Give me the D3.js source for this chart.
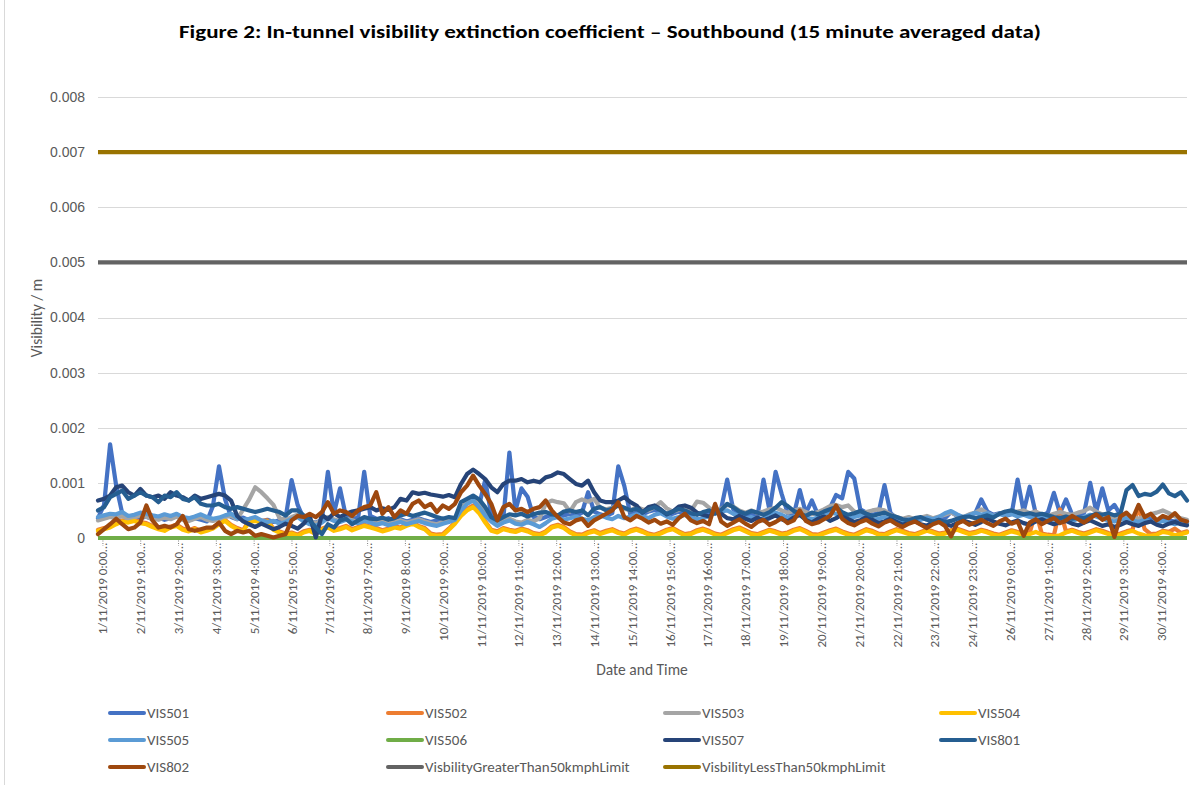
<!DOCTYPE html>
<html>
<head>
<meta charset="utf-8">
<script src="https://cdnjs.cloudflare.com/ajax/libs/d3/7.8.5/d3.min.js"></script>
<style>
  body { margin: 0; background: #fff; }
  svg { display: block; font-family: Carlito, Calibri, Lato, "Open Sans", sans-serif; }
</style>
</head>
<body>
<svg id="chart" width="1202" height="785"></svg>
<script>
// values, one every 4 hours from the first sample
const startTime = Date.UTC(2019, 9, 31, 20, 45);
const stepHours = 4;
const spanHours = 720;

const vis501 = [0.00036,0.00060,0.00170,0.00095,0.00045,0.00038,0.00040,0.00036,0.00039,0.00034,
  0.00037,0.00033,0.00036,0.00040,0.00035,0.00032,0.00036,0.00033,0.00030,0.00058,
  0.00130,0.00070,0.00038,0.00034,0.00037,0.00032,0.00035,0.00030,0.00033,0.00029,
  0.00032,0.00036,0.00105,0.00060,0.00035,0.00030,0.00028,0.00033,0.00120,0.00045,
  0.00090,0.00038,0.00034,0.00037,0.00120,0.00040,0.00035,0.00032,0.00036,0.00031,
  0.00034,0.00030,0.00033,0.00036,0.00032,0.00029,0.00032,0.00035,0.00031,0.00036,
  0.00052,0.00064,0.00070,0.00060,0.00105,0.00042,0.00032,0.00036,0.00155,0.00050,
  0.00090,0.00075,0.00038,0.00034,0.00038,0.00042,0.00038,0.00041,0.00044,0.00040,
  0.00046,0.00083,0.00048,0.00043,0.00040,0.00045,0.00130,0.00094,0.00042,0.00046,
  0.00043,0.00048,0.00051,0.00046,0.00041,0.00044,0.00048,0.00043,0.00040,0.00045,
  0.00042,0.00046,0.00049,0.00053,0.00106,0.00052,0.00045,0.00041,0.00044,0.00040,
  0.00106,0.00050,0.00120,0.00080,0.00045,0.00042,0.00087,0.00045,0.00068,0.00042,
  0.00045,0.00055,0.00078,0.00072,0.00120,0.00108,0.00052,0.00046,0.00042,0.00045,
  0.00096,0.00045,0.00036,0.00032,0.00035,0.00031,0.00034,0.00038,0.00035,0.00033,
  0.00036,0.00047,0.00040,0.00037,0.00041,0.00045,0.00070,0.00048,0.00042,0.00045,
  0.00040,0.00043,0.00106,0.00048,0.00093,0.00044,0.00040,0.00046,0.00082,0.00045,
  0.00070,0.00043,0.00040,0.00046,0.00100,0.00048,0.00090,0.00050,0.00060,0.00042,
  0.00039,0.00036,0.00033,0.00037,0.00034,0.00031,0.00035,0.00032,0.00030,0.00034,0.00031];

const vis502 = [0.00015,0.00018,0.00021,0.00027,0.00032,0.00030,0.00033,0.00029,0.00027,0.00022,
  0.00018,0.00015,0.00021,0.00024,0.00017,0.00014,0.00018,0.00012,0.00015,0.00019,
  0.00027,0.00033,0.00024,0.00018,0.00014,0.00033,0.00035,0.00031,0.00032,0.00017,
  0.00012,0.00008,0.00010,0.00006,0.00012,0.00015,0.00009,0.00017,0.00021,0.00015,
  0.00018,0.00022,0.00016,0.00020,0.00024,0.00021,0.00018,0.00014,0.00017,0.00021,
  0.00019,0.00024,0.00028,0.00022,0.00018,0.00008,0.00006,0.00007,0.00017,0.00028,
  0.00043,0.00053,0.00059,0.00048,0.00030,0.00015,0.00012,0.00018,0.00015,0.00013,
  0.00017,0.00014,0.00009,0.00007,0.00012,0.00021,0.00024,0.00020,0.00012,0.00007,
  0.00006,0.00011,0.00014,0.00009,0.00013,0.00016,0.00011,0.00008,0.00014,0.00017,
  0.00013,0.00008,0.00006,0.00010,0.00015,0.00018,0.00012,0.00007,0.00009,0.00014,
  0.00017,0.00013,0.00008,0.00006,0.00011,0.00016,0.00019,0.00014,0.00009,0.00007,
  0.00011,0.00015,0.00012,0.00008,0.00010,0.00015,0.00018,0.00013,0.00007,0.00006,
  0.00010,0.00014,0.00017,0.00012,0.00008,0.00006,0.00011,0.00016,0.00013,0.00008,
  0.00007,0.00012,0.00016,0.00013,0.00009,0.00007,0.00011,0.00015,0.00012,0.00008,
  0.00010,0.00014,0.00017,0.00013,0.00009,0.00011,0.00015,0.00012,0.00008,0.00006,
  0.00010,0.00014,0.00011,0.00007,0.00009,0.00048,0.00008,0.00006,0.00005,0.00052,
  0.00012,0.00015,0.00011,0.00008,0.00012,0.00016,0.00013,0.00009,0.00006,0.00008,
  0.00012,0.00015,0.00058,0.00016,0.00007,0.00008,0.00013,0.00011,0.00017,0.00009,0.00012];

const vis503 = [0.00032,0.00035,0.00038,0.00036,0.00040,0.00034,0.00037,0.00041,0.00038,0.00035,
  0.00033,0.00037,0.00034,0.00039,0.00033,0.00031,0.00035,0.00038,0.00033,0.00031,
  0.00034,0.00038,0.00040,0.00034,0.00052,0.00070,0.00092,0.00083,0.00072,0.00060,
  0.00036,0.00033,0.00038,0.00042,0.00034,0.00030,0.00027,0.00032,0.00038,0.00034,
  0.00031,0.00035,0.00032,0.00029,0.00033,0.00030,0.00027,0.00030,0.00026,0.00029,
  0.00032,0.00028,0.00031,0.00034,0.00030,0.00027,0.00025,0.00029,0.00032,0.00035,
  0.00053,0.00065,0.00072,0.00060,0.00045,0.00033,0.00026,0.00031,0.00035,0.00030,
  0.00028,0.00033,0.00030,0.00036,0.00062,0.00068,0.00065,0.00063,0.00048,0.00065,
  0.00070,0.00066,0.00071,0.00055,0.00052,0.00055,0.00059,0.00053,0.00050,0.00056,
  0.00052,0.00050,0.00056,0.00065,0.00054,0.00048,0.00051,0.00055,0.00049,0.00066,
  0.00064,0.00055,0.00048,0.00053,0.00060,0.00057,0.00050,0.00046,0.00050,0.00045,
  0.00048,0.00052,0.00055,0.00050,0.00046,0.00049,0.00053,0.00047,0.00043,0.00047,
  0.00052,0.00058,0.00060,0.00056,0.00059,0.00048,0.00044,0.00047,0.00050,0.00052,
  0.00050,0.00042,0.00038,0.00035,0.00038,0.00034,0.00037,0.00040,0.00036,0.00039,
  0.00042,0.00046,0.00041,0.00038,0.00043,0.00046,0.00052,0.00045,0.00040,0.00044,
  0.00047,0.00044,0.00048,0.00050,0.00045,0.00048,0.00043,0.00040,0.00044,0.00047,
  0.00044,0.00042,0.00046,0.00049,0.00055,0.00048,0.00043,0.00040,0.00037,0.00039,
  0.00042,0.00038,0.00035,0.00039,0.00043,0.00046,0.00050,0.00045,0.00039,0.00036,0.00033];

const vis504 = [0.00013,0.00016,0.00019,0.00025,0.00030,0.00028,0.00031,0.00027,0.00025,0.00020,
  0.00016,0.00013,0.00019,0.00022,0.00015,0.00012,0.00016,0.00010,0.00013,0.00017,
  0.00025,0.00031,0.00022,0.00016,0.00012,0.00030,0.00031,0.00028,0.00030,0.00015,
  0.00010,0.00006,0.00008,0.00004,0.00010,0.00013,0.00007,0.00015,0.00019,0.00013,
  0.00016,0.00020,0.00014,0.00018,0.00022,0.00019,0.00016,0.00012,0.00015,0.00019,
  0.00017,0.00022,0.00026,0.00020,0.00016,0.00006,0.00004,0.00005,0.00015,0.00026,
  0.00040,0.00050,0.00056,0.00045,0.00028,0.00013,0.00010,0.00016,0.00013,0.00011,
  0.00015,0.00012,0.00007,0.00005,0.00010,0.00019,0.00022,0.00018,0.00010,0.00005,
  0.00004,0.00009,0.00012,0.00007,0.00011,0.00014,0.00009,0.00006,0.00012,0.00015,
  0.00011,0.00006,0.00004,0.00008,0.00013,0.00016,0.00010,0.00005,0.00007,0.00012,
  0.00015,0.00011,0.00006,0.00004,0.00009,0.00014,0.00017,0.00012,0.00007,0.00005,
  0.00009,0.00013,0.00010,0.00006,0.00008,0.00013,0.00016,0.00011,0.00005,0.00004,
  0.00008,0.00012,0.00015,0.00010,0.00006,0.00004,0.00009,0.00014,0.00011,0.00006,
  0.00005,0.00010,0.00014,0.00011,0.00007,0.00005,0.00009,0.00013,0.00010,0.00006,
  0.00008,0.00012,0.00015,0.00011,0.00007,0.00009,0.00013,0.00010,0.00006,0.00004,
  0.00008,0.00012,0.00009,0.00005,0.00007,0.00011,0.00006,0.00004,0.00003,0.00005,
  0.00010,0.00013,0.00009,0.00006,0.00010,0.00014,0.00011,0.00007,0.00004,0.00006,
  0.00010,0.00013,0.00008,0.00005,0.00004,0.00006,0.00011,0.00009,0.00005,0.00007,0.00010];

const vis505 = [0.00038,0.00041,0.00044,0.00043,0.00047,0.00040,0.00042,0.00046,0.00044,0.00041,
  0.00039,0.00043,0.00040,0.00044,0.00038,0.00036,0.00039,0.00043,0.00038,0.00035,
  0.00037,0.00041,0.00044,0.00036,0.00033,0.00035,0.00038,0.00032,0.00029,0.00031,
  0.00026,0.00029,0.00034,0.00038,0.00030,0.00025,0.00022,0.00028,0.00036,0.00031,
  0.00029,0.00033,0.00030,0.00027,0.00031,0.00028,0.00024,0.00027,0.00023,0.00026,
  0.00029,0.00025,0.00028,0.00031,0.00027,0.00024,0.00022,0.00026,0.00029,0.00033,
  0.00050,0.00062,0.00068,0.00056,0.00041,0.00030,0.00022,0.00028,0.00032,0.00026,
  0.00024,0.00029,0.00025,0.00020,0.00027,0.00035,0.00038,0.00033,0.00036,0.00039,
  0.00035,0.00032,0.00038,0.00041,0.00037,0.00034,0.00040,0.00036,0.00039,0.00043,
  0.00040,0.00036,0.00042,0.00045,0.00039,0.00035,0.00038,0.00042,0.00037,0.00034,
  0.00036,0.00040,0.00045,0.00048,0.00050,0.00044,0.00039,0.00035,0.00038,0.00033,
  0.00036,0.00041,0.00046,0.00042,0.00037,0.00039,0.00043,0.00038,0.00034,0.00037,
  0.00042,0.00046,0.00044,0.00039,0.00035,0.00038,0.00041,0.00036,0.00032,0.00035,
  0.00038,0.00033,0.00029,0.00031,0.00034,0.00030,0.00033,0.00037,0.00034,0.00038,
  0.00045,0.00049,0.00043,0.00038,0.00041,0.00046,0.00042,0.00045,0.00040,0.00043,
  0.00041,0.00044,0.00039,0.00042,0.00038,0.00035,0.00039,0.00036,0.00033,0.00037,
  0.00034,0.00031,0.00035,0.00038,0.00042,0.00039,0.00035,0.00032,0.00030,0.00033,
  0.00036,0.00032,0.00029,0.00033,0.00030,0.00027,0.00031,0.00028,0.00025,0.00029,0.00026];

const vis507 = [0.00068,0.00071,0.00077,0.00092,0.00095,0.00083,0.00077,0.00089,0.00077,0.00074,
  0.00077,0.00071,0.00083,0.00077,0.00074,0.00068,0.00077,0.00071,0.00074,0.00077,
  0.00080,0.00077,0.00068,0.00040,0.00030,0.00025,0.00020,0.00026,0.00021,0.00016,
  0.00020,0.00026,0.00022,0.00017,0.00026,0.00040,0.00001,0.00042,0.00034,0.00045,
  0.00038,0.00044,0.00048,0.00050,0.00053,0.00056,0.00050,0.00054,0.00051,0.00056,
  0.00071,0.00068,0.00083,0.00080,0.00082,0.00079,0.00077,0.00075,0.00078,0.00074,
  0.00098,0.00116,0.00124,0.00116,0.00107,0.00092,0.00083,0.00098,0.00104,0.00104,
  0.00107,0.00101,0.00104,0.00101,0.00110,0.00113,0.00119,0.00116,0.00107,0.00098,
  0.00095,0.00104,0.00083,0.00068,0.00065,0.00065,0.00068,0.00074,0.00065,0.00059,
  0.00046,0.00056,0.00059,0.00052,0.00043,0.00048,0.00057,0.00059,0.00055,0.00046,
  0.00042,0.00039,0.00048,0.00044,0.00036,0.00034,0.00040,0.00035,0.00031,0.00037,
  0.00032,0.00036,0.00041,0.00034,0.00030,0.00037,0.00042,0.00033,0.00028,0.00035,
  0.00039,0.00031,0.00036,0.00043,0.00034,0.00029,0.00032,0.00038,0.00033,0.00027,
  0.00030,0.00035,0.00029,0.00024,0.00028,0.00031,0.00025,0.00022,0.00029,0.00033,
  0.00026,0.00022,0.00027,0.00032,0.00028,0.00024,0.00029,0.00035,0.00030,0.00026,
  0.00023,0.00028,0.00032,0.00027,0.00024,0.00030,0.00034,0.00029,0.00025,0.00028,
  0.00031,0.00026,0.00023,0.00028,0.00032,0.00027,0.00022,0.00025,0.00020,0.00024,
  0.00029,0.00025,0.00022,0.00027,0.00030,0.00024,0.00021,0.00026,0.00029,0.00025,0.00023];

const vis801 = [0.00050,0.00056,0.00074,0.00080,0.00086,0.00071,0.00077,0.00083,0.00077,0.00074,
  0.00065,0.00077,0.00074,0.00083,0.00071,0.00068,0.00074,0.00062,0.00059,0.00059,
  0.00062,0.00056,0.00053,0.00056,0.00053,0.00050,0.00047,0.00050,0.00053,0.00050,
  0.00047,0.00041,0.00050,0.00050,0.00041,0.00032,0.00019,0.00007,0.00025,0.00019,
  0.00032,0.00035,0.00025,0.00032,0.00038,0.00035,0.00034,0.00037,0.00033,0.00036,
  0.00041,0.00044,0.00040,0.00043,0.00046,0.00042,0.00038,0.00035,0.00038,0.00036,
  0.00065,0.00071,0.00077,0.00070,0.00056,0.00038,0.00032,0.00038,0.00043,0.00041,
  0.00044,0.00039,0.00043,0.00046,0.00047,0.00043,0.00041,0.00048,0.00050,0.00047,
  0.00050,0.00041,0.00053,0.00056,0.00050,0.00053,0.00059,0.00055,0.00050,0.00053,
  0.00047,0.00052,0.00056,0.00050,0.00044,0.00048,0.00053,0.00050,0.00045,0.00042,
  0.00047,0.00050,0.00044,0.00051,0.00062,0.00056,0.00048,0.00044,0.00049,0.00046,
  0.00042,0.00047,0.00055,0.00065,0.00058,0.00049,0.00044,0.00040,0.00046,0.00043,
  0.00048,0.00052,0.00056,0.00047,0.00042,0.00045,0.00049,0.00044,0.00040,0.00043,
  0.00046,0.00041,0.00038,0.00034,0.00032,0.00036,0.00038,0.00033,0.00030,0.00032,
  0.00029,0.00031,0.00035,0.00038,0.00039,0.00036,0.00038,0.00041,0.00037,0.00044,
  0.00048,0.00050,0.00046,0.00043,0.00045,0.00042,0.00044,0.00041,0.00038,0.00036,
  0.00039,0.00035,0.00037,0.00036,0.00040,0.00044,0.00042,0.00045,0.00041,0.00044,
  0.00087,0.00096,0.00076,0.00080,0.00078,0.00084,0.00097,0.00081,0.00076,0.00083,0.00068];

const vis802 = [0.00007,0.00016,0.00025,0.00035,0.00025,0.00016,0.00019,0.00028,0.00059,0.00032,
  0.00019,0.00022,0.00019,0.00025,0.00040,0.00016,0.00013,0.00016,0.00019,0.00019,
  0.00028,0.00013,0.00007,0.00013,0.00010,0.00013,0.00004,0.00007,0.00004,0.00001,
  0.00004,0.00007,0.00032,0.00040,0.00038,0.00044,0.00038,0.00047,0.00065,0.00044,
  0.00050,0.00047,0.00040,0.00050,0.00056,0.00059,0.00083,0.00044,0.00056,0.00038,
  0.00050,0.00044,0.00062,0.00068,0.00056,0.00062,0.00047,0.00059,0.00053,0.00062,
  0.00083,0.00095,0.00113,0.00095,0.00080,0.00062,0.00032,0.00056,0.00062,0.00050,
  0.00053,0.00047,0.00053,0.00056,0.00068,0.00050,0.00038,0.00028,0.00025,0.00032,
  0.00035,0.00022,0.00032,0.00038,0.00044,0.00050,0.00065,0.00038,0.00032,0.00040,
  0.00035,0.00028,0.00033,0.00026,0.00030,0.00024,0.00036,0.00044,0.00032,0.00027,
  0.00031,0.00025,0.00062,0.00030,0.00022,0.00028,0.00034,0.00026,0.00020,0.00029,
  0.00033,0.00024,0.00029,0.00036,0.00027,0.00032,0.00050,0.00031,0.00025,0.00028,
  0.00034,0.00040,0.00059,0.00035,0.00027,0.00023,0.00029,0.00033,0.00026,0.00021,
  0.00028,0.00032,0.00025,0.00020,0.00026,0.00030,0.00024,0.00018,0.00025,0.00029,
  0.00022,0.00003,0.00026,0.00031,0.00024,0.00028,0.00033,0.00027,0.00022,0.00030,
  0.00035,0.00026,0.00030,0.00004,0.00028,0.00034,0.00025,0.00031,0.00036,0.00027,
  0.00032,0.00040,0.00034,0.00028,0.00036,0.00043,0.00033,0.00038,0.00002,0.00039,
  0.00046,0.00035,0.00060,0.00038,0.00044,0.00032,0.00040,0.00036,0.00045,0.00033,0.00030];

// flat series: one level across the whole month
const vis506Level = 0;
const greaterThan50Limit = 0.005;
const lessThan50Limit = 0.007;

const seriesNames = ["VIS501", "VIS502", "VIS503", "VIS504", "VIS505", "VIS506", "VIS507", "VIS801", "VIS802",
  "VisbilityGreaterThan50kmphLimit", "VisbilityLessThan50kmphLimit"];
const seriesColors = ["#4472C4", "#ED7D31", "#A5A5A5", "#FFC000", "#5B9BD5", "#70AD47", "#264478", "#255E91", "#9E480E",
  "#636363", "#997300"];

const yTicks = [0, 0.001, 0.002, 0.003, 0.004, 0.005, 0.006, 0.007, 0.008];
const tickLabels = ["1/11/2019 0:00", "2/11/2019 1:00", "3/11/2019 2:00", "4/11/2019 3:00", "5/11/2019 4:00",
  "6/11/2019 5:00", "7/11/2019 6:00", "8/11/2019 7:00", "9/11/2019 8:00", "10/11/2019 9:00",
  "11/11/2019 10:00", "12/11/2019 11:00", "13/11/2019 12:00", "14/11/2019 13:00", "15/11/2019 14:00",
  "16/11/2019 15:00", "17/11/2019 16:00", "18/11/2019 17:00", "19/11/2019 18:00", "20/11/2019 19:00",
  "21/11/2019 20:00", "22/11/2019 21:00", "23/11/2019 22:00", "24/11/2019 23:00", "26/11/2019 0:00",
  "27/11/2019 1:00", "28/11/2019 2:00", "29/11/2019 3:00", "30/11/2019 4:00"];

const titleText = "Figure 2: In-tunnel visibility extinction coefficient \u2013 Southbound (15 minute averaged data)";

const svg = d3.select("#chart");
const plot = { left: 98, right: 1187, top: 97, bottom: 538 };
const hourMs = 3600 * 1000;

const x = d3.scaleUtc()
  .domain([startTime, startTime + spanHours * hourMs])
  .range([plot.left, plot.right]);
const y = d3.scaleLinear().domain([0, 0.008]).range([plot.bottom, plot.top]);

const parseTick = d3.utcParse("%d/%m/%Y %H:%M");
const gray = "#595959";

// chart border on the left
svg.append("line").attr("x1", 4.5).attr("x2", 4.5).attr("y1", 0).attr("y2", 785)
  .attr("stroke", "#D9D9D9").attr("stroke-width", 1);

svg.append("text")
  .attr("x", 610).attr("y", 38)
  .attr("text-anchor", "middle")
  .attr("font-size", 19).attr("font-weight", "bold").attr("fill", "#000")
  .attr("textLength", 862).attr("lengthAdjust", "spacingAndGlyphs")
  .text(titleText);

// gridlines + y labels
const yAxis = d3.axisLeft(y).tickValues(yTicks).tickSize(-(plot.right - plot.left)).tickPadding(13)
  .tickFormat(d => d === 0 ? "0" : d3.format(".3f")(d));
svg.append("g").attr("transform", `translate(${plot.left},0)`).call(yAxis)
  .call(g => g.select(".domain").remove())
  .call(g => g.selectAll(".tick line").attr("stroke", "#D9D9D9").attr("shape-rendering", "crispEdges"))
  .call(g => g.selectAll(".tick text").attr("fill", gray).attr("font-size", 14).attr("font-family", null));

// x axis: baseline, dotted ticks, rotated labels
const tickDates = tickLabels.map(parseTick);
svg.append("line").attr("x1", plot.left).attr("x2", plot.right)
  .attr("y1", plot.bottom).attr("y2", plot.bottom).attr("stroke", "#D9D9D9");
const xTick = svg.append("g").selectAll("g").data(tickDates).join("g")
  .attr("transform", d => `translate(${x(d)},0)`);
xTick.append("line").attr("y1", plot.bottom).attr("y2", plot.bottom + 8)
  .attr("stroke", "#7F7F7F").attr("stroke-dasharray", "1,1.5");
xTick.append("text")
  .attr("transform", `translate(0,${plot.bottom + 5}) rotate(-90)`)
  .attr("text-anchor", "end").attr("dy", "0.35em")
  .attr("font-size", 13).attr("fill", gray)
  .text((d, i) => tickLabels[i] + "\u2026");

svg.append("text").attr("x", 642).attr("y", 675).attr("text-anchor", "middle")
  .attr("font-size", 15.5).attr("fill", gray).text("Date and Time");
svg.append("text").attr("transform", "translate(42,318) rotate(-90)").attr("text-anchor", "middle")
  .attr("font-size", 15.5).attr("fill", gray).text("Visibility / m");

// series, in Excel's drawing order
const sampled = [vis501, vis502, vis503, vis504, vis505, null, vis507, vis801, vis802];
const flatLevels = { 5: vis506Level, 9: greaterThan50Limit, 10: lessThan50Limit };
const line = d3.line()
  .x((d, i) => x(startTime + i * stepHours * hourMs))
  .y(d => y(d));
const lines = svg.append("g").attr("fill", "none").attr("stroke-width", 4.2)
  .attr("stroke-linejoin", "round").attr("stroke-linecap", "round");
seriesNames.forEach((name, i) => {
  if (sampled[i]) {
    lines.append("path").datum(sampled[i]).attr("d", line).attr("stroke", seriesColors[i]);
  } else {
    lines.append("line")
      .attr("x1", x(startTime)).attr("x2", x(startTime + spanHours * hourMs))
      .attr("y1", y(flatLevels[i])).attr("y2", y(flatLevels[i]))
      .attr("stroke", seriesColors[i]).attr("stroke-linecap", "butt");
  }
});

// legend: 4 columns, 3 rows
const legendCols = [110, 388, 665, 941];
const legendRows = [713, 740, 767];
const leg = svg.append("g").selectAll("g").data(seriesNames).join("g")
  .attr("transform", (d, i) => `translate(${legendCols[i % 4]},${legendRows[Math.floor(i / 4)]})`);
leg.append("line").attr("x1", 0).attr("x2", 34).attr("y1", 0).attr("y2", 0)
  .attr("stroke", (d, i) => seriesColors[i]).attr("stroke-width", 4).attr("stroke-linecap", "round");
leg.append("text").attr("x", 37).attr("dy", "0.35em").attr("font-size", 15).attr("fill", gray)
  .text(d => d);
</script>
</body>
</html>
